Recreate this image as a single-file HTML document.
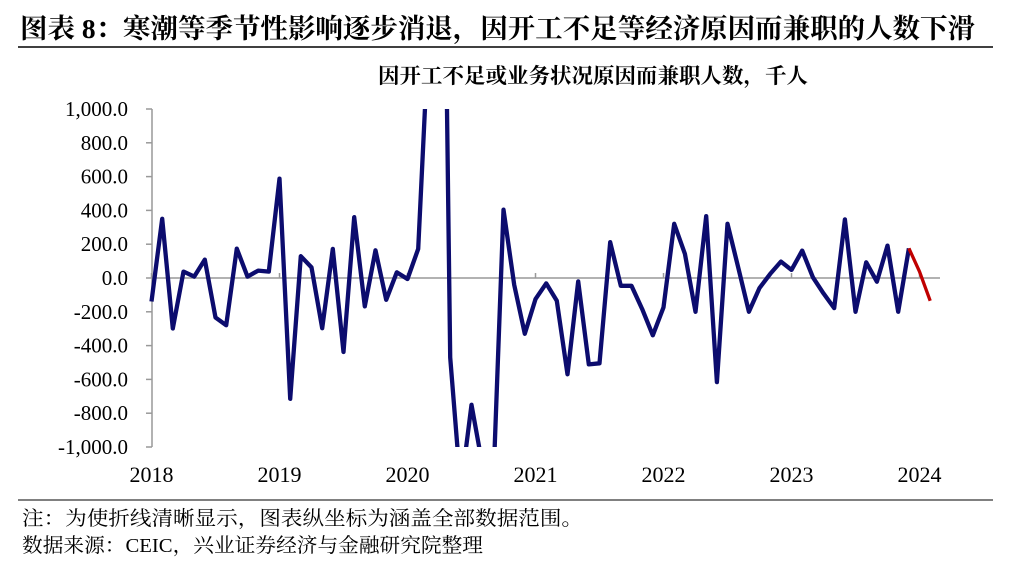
<!DOCTYPE html>
<html><head><meta charset="utf-8"><style>
body{margin:0;background:#fff;width:1024px;height:563px;overflow:hidden;font-family:"Liberation Serif","Noto Serif CJK SC",serif}
</style></head><body>
<svg width="1024" height="563">
<text x="20" y="38" font-size="27" font-weight="bold" fill="#000" textLength="955" lengthAdjust="spacingAndGlyphs" font-family="Liberation Serif, Noto Serif CJK SC, serif">图表 8：寒潮等季节性影响逐步消退，因开工不足等经济原因而兼职的人数下滑</text>
<line x1="18" y1="47" x2="993" y2="47" stroke="#000" stroke-width="1.5"/>
<text x="378" y="83" font-size="21" font-weight="bold" textLength="430" lengthAdjust="spacingAndGlyphs" font-family="Liberation Serif, Noto Serif CJK SC, serif">因开工不足或业务状况原因而兼职人数，千人</text>
<g id="axes"></g>
<g id="plot"></g>
<line x1="18" y1="500" x2="993" y2="500" stroke="#000" stroke-width="1"/>
<text x="22" y="525" font-size="20" textLength="561" lengthAdjust="spacingAndGlyphs" font-family="Liberation Serif, Noto Serif CJK SC, serif">注：为使折线清晰显示，图表纵坐标为涵盖全部数据范围。</text>
<text x="22" y="552" font-size="20" textLength="461" lengthAdjust="spacingAndGlyphs" font-family="Liberation Serif, Noto Serif CJK SC, serif">数据来源：CEIC，兴业证券经济与金融研究院整理</text>
</svg>
<script>
const yTicks=[-1000,-800,-600,-400,-200,0,200,400,600,800,1000];
const years=["2018","2019","2020","2021","2022","2023","2024"];
const values=[-139,350,-299,38,8,109,-234,-279,174,8,44,38,
588,-715,129,63,-297,172,-438,360,-168,164,-129,34,
-6,172,1473,4430,-470,-1250,-750,-1100,-1300,404,-40,-330,
-125,-32,-135,-570,-20,-511,-505,212,-46,-46,-184,-339,
-174,321,143,-200,366,-616,321,63,-200,-59,24,97,
48,162,4,-91,-178,347,-200,93,-22,192,-200,176,
38,-135];
const highlightFrom=71;
const NS="http://www.w3.org/2000/svg";
const x0=151.5,mw=10.667,yTop=109,yBot=447;
function X(i){return x0+i*mw}
function Y(v){return yBot-(v+1000)/2000*(yBot-yTop)}
const axes=document.getElementById('axes'),plot=document.getElementById('plot');
function mk(tag,attrs,parent){const e=document.createElementNS(NS,tag);for(const k in attrs)e.setAttribute(k,attrs[k]);parent.appendChild(e);return e}
let ax=mk('line',{x1:152,y1:yTop,x2:152,y2:yBot,stroke:'#999','stroke-width':1.5},axes);


yTicks.forEach(t=>{
 let tk=mk('line',{x1:146,y1:Y(t),x2:152,y2:Y(t),stroke:'#999','stroke-width':1.5},axes);
 
 
 let lb=mk('text',{x:128,y:Y(t)+7,'font-size':21,'text-anchor':'end'},axes);
 lb.textContent=(t<0?'-':'')+Math.abs(t).toLocaleString('en-US')+'.0';
 
 
});
let zl=mk('line',{x1:152,y1:Y(0),x2:940,y2:Y(0),stroke:'#999','stroke-width':1.5},axes);


years.forEach((y,k)=>{
 const xx=X(k*12);
 let tk=mk('line',{x1:xx,y1:Y(0),x2:xx,y2:Y(0)-5,stroke:'#999','stroke-width':1.5},axes);
 
 
 let lb=mk('text',{x:xx,y:482,'font-size':22,'text-anchor':'middle'},axes);
 lb.textContent=y;
 
 
});
const cp=mk('clipPath',{id:'cp'},plot);mk('rect',{x:140,y:yTop,width:820,height:yBot-yTop},cp);
const g=mk('g',{'clip-path':'url(#cp)'},plot);
let d=values.slice(0,highlightFrom+1).map((v,i)=>(i?'L':'M')+X(i).toFixed(1)+','+Y(v).toFixed(1)).join('');
let p=mk('path',{d:d,fill:'none',stroke:'#0c0c6e','stroke-width':4.3,'stroke-linejoin':'round'},g);


let d2='';for(let i=highlightFrom;i<values.length;i++)d2+=(i==highlightFrom?'M':'L')+X(i).toFixed(1)+','+Y(values[i]).toFixed(1);
let p2=mk('path',{d:d2,fill:'none',stroke:'#c00000','stroke-width':3.3,'stroke-linejoin':'round'},g);


</script>
</body></html>
